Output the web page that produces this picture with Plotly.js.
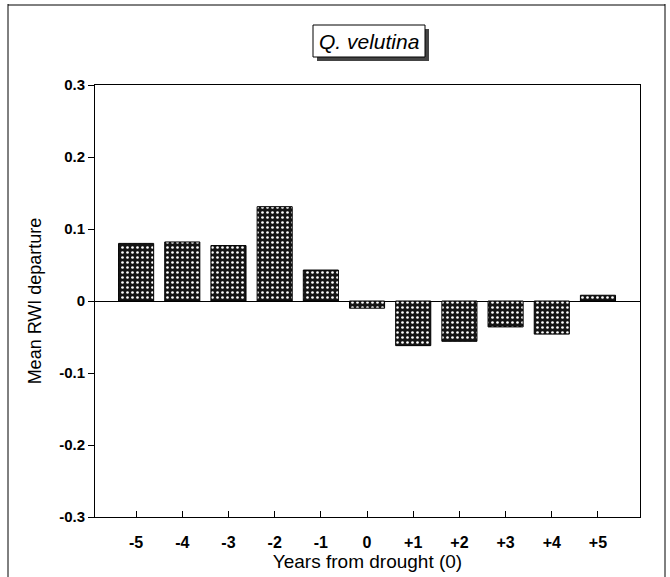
<!DOCTYPE html>
<html>
<head>
<meta charset="utf-8">
<script src="https://cdn.plot.ly/plotly-3.0.1.min.js"></script>
<style>html,body{margin:0;padding:0;background:#fff;}#chart{width:670px;height:577px;}</style>
</head>
<body>
<div id="chart"></div>
<script>
const years = ["-5","-4","-3","-2","-1","0","+1","+2","+3","+4","+5"];
const departure = [0.080, 0.082, 0.077, 0.131, 0.043, -0.010, -0.062, -0.056, -0.036, -0.046, 0.008];
const yTickVals = [0.3, 0.2, 0.1, 0, -0.1, -0.2, -0.3];
const yTickText = ["0.3", "0.2", "0.1", "0", "-0.1", "-0.2", "-0.3"];
const speciesTitle = "Q. velutina";

const L = 95, R = 640, T = 85, B = 517;
const px = v => (v - L) / (R - L);
const py = v => (B - v) / (B - T);

const trace = {
  type: "bar",
  x: years.map((_, i) => i),
  y: departure,
  width: 0.76,
  marker: {
    color: "#111",
    line: {color: "#000", width: 1},
    pattern: {shape: ".", fgcolor: "#ffffff", bgcolor: "#151515", size: 5, solidity: 0.22}
  },
  hoverinfo: "skip"
};

const font = "Liberation Sans, Arial, sans-serif";

const layout = {
  width: 670, height: 577,
  margin: {l: L, r: 670 - R, t: T, b: 577 - B, pad: 0},
  paper_bgcolor: "#fff", plot_bgcolor: "#fff",
  showlegend: false,
  font: {family: font, color: "#000"},
  xaxis: {
    range: [-0.89, 10.91],
    tickvals: years.map((_, i) => i),
    ticktext: years,
    ticks: "inside", ticklen: 6, tickcolor: "#000", tickwidth: 1,
    ticklabelstandoff: 11,
    tickfont: {size: 16, family: font, weight: "bold"},
    showline: true, linecolor: "#000", linewidth: 1, mirror: true,
    showgrid: false, zeroline: false,
    title: {text: "Years from drought (0)", font: {size: 19, family: font}, standoff: 3}
  },
  yaxis: {
    range: [-0.3, 0.3],
    tickvals: yTickVals,
    ticktext: yTickText,
    ticks: "outside", ticklen: 6, tickcolor: "#000", tickwidth: 1,
    tickfont: {size: 15, family: font, weight: "bold"},
    showline: true, linecolor: "#000", linewidth: 1, mirror: true,
    showgrid: false, zeroline: true, zerolinecolor: "#000", zerolinewidth: 1,
    title: {text: "Mean RWI departure", font: {size: 18, family: font}, standoff: 12}
  },
  shapes: [
    {type: "line", xref: "paper", yref: "paper", x0: px(8), x1: px(8), y0: py(4), y1: py(577), line: {color: "#000", width: 1}},
    {type: "line", xref: "paper", yref: "paper", x0: px(8), x1: px(665), y0: py(5), y1: py(5), line: {color: "#000", width: 1}},
    {type: "line", xref: "paper", yref: "paper", x0: px(665), x1: px(665), y0: py(4), y1: py(577), line: {color: "#000", width: 1}},
    {type: "rect", xref: "paper", yref: "paper", x0: px(317), x1: px(429), y0: py(29), y1: py(61), fillcolor: "#444", line: {width: 0}, layer: "above"},
    {type: "rect", xref: "paper", yref: "paper", x0: px(313), x1: px(425), y0: py(25), y1: py(57), fillcolor: "#fff", line: {color: "#000", width: 1}, layer: "above"}
  ],
  annotations: [
    {xref: "paper", yref: "paper", x: px(369), y: py(41), text: "<i>" + speciesTitle + "</i>", showarrow: false,
     xanchor: "center", yanchor: "middle", font: {size: 21, family: font, color: "#000"}}
  ]
};

Plotly.newPlot("chart", [trace], layout, {displayModeBar: false, staticPlot: true});
</script>
</body>
</html>
